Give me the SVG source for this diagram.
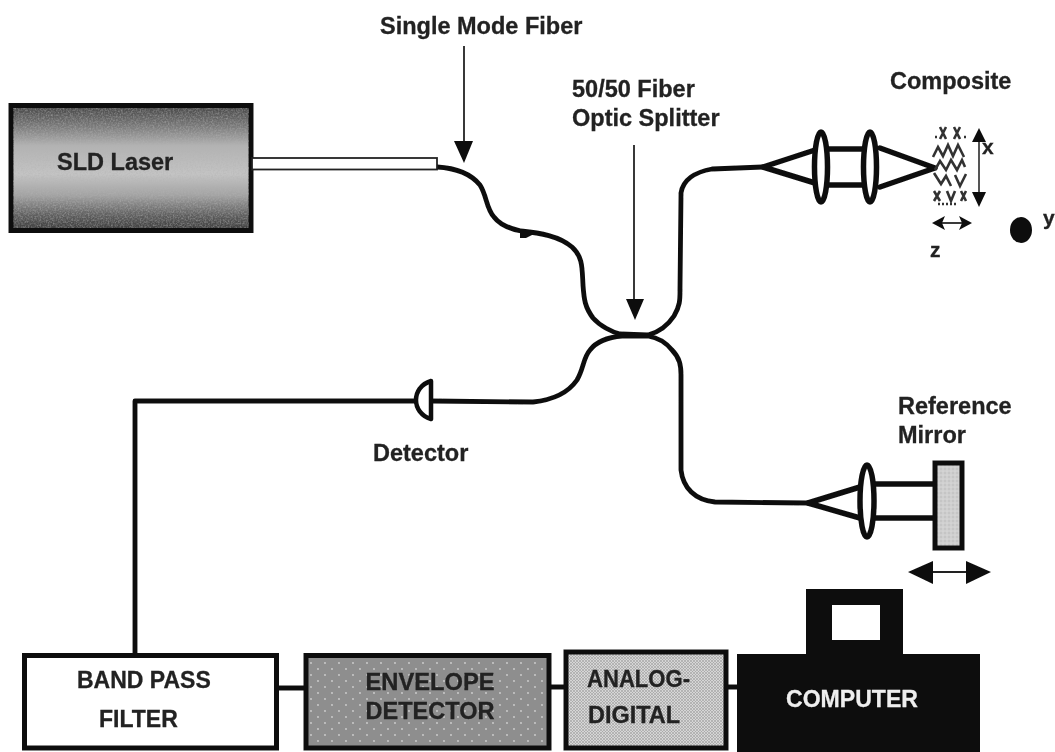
<svg xmlns="http://www.w3.org/2000/svg" width="1055" height="752" viewBox="0 0 1055 752">
<style>
text{font-family:"Liberation Sans",Arial,sans-serif;font-weight:700;fill:#222;font-size:23.5px;stroke:#222;stroke-width:0.3}
.blk{font-size:23px}
.inv{fill:#eee;stroke:#eee}
.fib{fill:none;stroke:#111;stroke-width:4.8;stroke-linejoin:round;stroke-linecap:round}
.ray{fill:none;stroke:#111;stroke-width:5.5;stroke-linejoin:round;stroke-linecap:round}
.thin{fill:none;stroke:#222;stroke-width:1.8}
.lens{fill:#fff;stroke:#111;stroke-width:5.5}
.box{stroke:#111;stroke-width:5}
.mat{fill:none;stroke:#333;stroke-width:2.6}
.head{fill:#111}
</style>
<defs>
<filter id="soft" filterUnits="userSpaceOnUse" x="0" y="0" width="1055" height="752"><feGaussianBlur stdDeviation="0.45"/></filter>
<filter id="noise" x="0" y="0" width="100%" height="100%"><feTurbulence type="fractalNoise" baseFrequency="0.6" numOctaves="2" seed="4"/><feColorMatrix values="0 0 0 0 0.45  0 0 0 0 0.45  0 0 0 0 0.45  1.1 0 0 0 -0.42"/></filter>
<linearGradient id="sld" x1="0" y1="0" x2="0" y2="1">
<stop offset="0" stop-color="#454545"/><stop offset="0.14" stop-color="#707070"/><stop offset="0.32" stop-color="#b2b2b2"/><stop offset="0.55" stop-color="#c4c4c4"/><stop offset="0.72" stop-color="#a2a2a2"/><stop offset="0.88" stop-color="#5e5e5e"/><stop offset="1" stop-color="#3a3a3a"/>
</linearGradient>
<pattern id="sparse" width="14" height="12" patternUnits="userSpaceOnUse">
<rect width="14" height="12" fill="#8e8e8e"/><circle cx="3" cy="3" r="0.9" fill="#d0d0d0"/><circle cx="10" cy="9" r="0.9" fill="#d0d0d0"/>
</pattern>
<pattern id="fine" width="3" height="3" patternUnits="userSpaceOnUse">
<rect width="3" height="3" fill="#d6d6d6"/><circle cx="1" cy="1" r="0.8" fill="#888"/><circle cx="2.5" cy="2.5" r="0.5" fill="#999"/>
</pattern>
<pattern id="mirror" width="4" height="4" patternUnits="userSpaceOnUse">
<rect width="4" height="4" fill="#cfcfcf"/><circle cx="1" cy="1" r="0.7" fill="#b5b5b5"/><circle cx="3" cy="3" r="0.6" fill="#e2e2e2"/>
</pattern>
</defs>
<rect width="1055" height="752" fill="#fff"/>
<g filter="url(#soft)">
<g id="connectors">
<path class="fib" d="M437 167C455 168 471 174 480 185C487 196 486 208 494 217C500 225 511 229 521 231C540 233 559 236 572 247C583 257 582 268 583 285C584 300 585 307 593 318C600 326 612 332 620 334L648 335C660 332 668 325 674 316C680 306 680 300 680 290L681 193C683 180 695 172 712 169L763 167"/>
<path class="fib" d="M431 401L533 402C552 400 568 393 577 380C584 368 583 358 590 350C597 341 610 337 622 336L648 336C660 338 668 345 672 350C680 358 681 366 681 375L681 470C683 488 695 500 715 502L808 503"/>
<path class="fib" d="M415 401L135 401L135 655"/>
<path class="fib" d="M277 688L304 688M550 687L564 687M728 687L737 687" style="stroke-linecap:butt"/>
<path class="thin" d="M464 46V142M634 145V302"/>
<path class="head" d="M454 141L473 141L464 163ZM626 299L644 299L635 320ZM520 231L536 233L526 238L520 238Z"/>
</g>

<g id="sld-laser">
<rect x="11" y="105.500" width="240" height="125" fill="url(#sld)" class="box"/>
<rect x="13.500" y="108" width="235" height="120" filter="url(#noise)"/>
<text x="57" y="170">SLD Laser</text>
<rect x="252" y="158" width="185" height="11.500" fill="#fff" stroke="#222" stroke-width="1.8"/>
</g>

<g id="fiber-label"><text x="380" y="34">Single Mode Fiber</text></g>
<g id="splitter-label"><text x="572" y="97">50/50 Fiber</text><text x="572" y="126">Optic Splitter</text></g>

<g id="composite-optics">
<path class="ray" d="M763 167L815 150M763 167L815 183M828 149H863M828 185H863M880 148L935 168L880 187"/>
<ellipse class="lens" cx="821" cy="167" rx="6.500" ry="35"/>
<ellipse class="lens" cx="870" cy="167" rx="6.500" ry="35"/>
</g>

<g id="composite">
<text x="890" y="89">Composite</text>
<path class="mat" stroke-dasharray="2 2" d="M935 137H938M964 137H967M938 204H956"/>
<path class="mat" d="M940 127L946 139M946 127L940 139M954 127L960 139M960 127L954 139M933 157L938 147L943 156L948 145L953 156L958 145L964 157M935 170L940 161L946 170L951 160L957 170L962 160L965 167M934 173L941 184L946 176L951 186M955 175L960 186L966 174M934 191L940 201M940 191L934 201M947 191L951 201L955 191M961 191L966 201M966 191L961 201"/>
<path d="M979 138V198" stroke="#555" stroke-width="2"/>
<path class="head" d="M979 128L986 142L972 142ZM979 207L986 192L972 192Z"/>
<text x="982" y="154" style="font-size:21px">x</text>
<path class="thin" d="M938 223H966"/>
<path class="head" d="M932 223L945 216L942 223L945 230ZM972 223L959 216L962 223L959 230Z"/>
<text x="930" y="257" style="font-size:21px">z</text>
<ellipse cx="1021" cy="230" rx="11" ry="13" fill="#111"/>
<text x="1043" y="225" style="font-size:21px">y</text>
</g>

<g id="detector">
<path d="M431 381C421 384 416 392 416 400C416 408 421 416 431 419Z" fill="#fff" stroke="#111" stroke-width="4.500" stroke-linejoin="round"/>
<text x="373" y="461">Detector</text>
</g>

<g id="reference-mirror">
<text x="898" y="414">Reference</text>
<text x="898" y="443">Mirror</text>
<path class="ray" d="M808 503L860 487M808 503L860 518M875 484H934M875 518H934"/>
<ellipse class="lens" cx="867" cy="501" rx="7" ry="36"/>
<rect x="935" y="463" width="27" height="85" fill="url(#mirror)" class="box"/>
<path d="M933 572H966" stroke="#222" stroke-width="2"/>
<path class="head" d="M908 572L933 561V584ZM991 572L966 561V584Z"/>
</g>

<g id="band-pass-filter">
<rect x="24.500" y="655.500" width="252" height="92.500" fill="#fff" class="box"/>
<text x="77" y="688" class="blk">BAND PASS</text>
<text x="99" y="727" class="blk">FILTER</text>
</g>

<g id="envelope-detector">
<rect x="306" y="655.500" width="243" height="92.500" fill="url(#sparse)" class="box"/>
<text x="430" y="690" text-anchor="middle" textLength="129" lengthAdjust="spacingAndGlyphs" class="blk">ENVELOPE</text>
<text x="430" y="719" text-anchor="middle" textLength="129" lengthAdjust="spacingAndGlyphs" class="blk">DETECTOR</text>
</g>

<g id="analog-digital">
<rect x="566" y="652" width="160" height="96" fill="url(#fine)" class="box"/>
<text x="587" y="687" textLength="103" lengthAdjust="spacingAndGlyphs" class="blk">ANALOG-</text>
<text x="588" y="723" textLength="92" lengthAdjust="spacingAndGlyphs" class="blk">DIGITAL</text>
</g>

<g id="computer">
<rect x="737" y="654" width="243" height="98" fill="#0a0a0a"/>
<rect x="806" y="589" width="97" height="66" fill="#0a0a0a"/>
<rect x="832" y="605" width="48" height="35" fill="#fff"/>
<text x="786" y="707" textLength="132" lengthAdjust="spacingAndGlyphs" class="blk inv">COMPUTER</text>
</g>
</g>
</svg>
